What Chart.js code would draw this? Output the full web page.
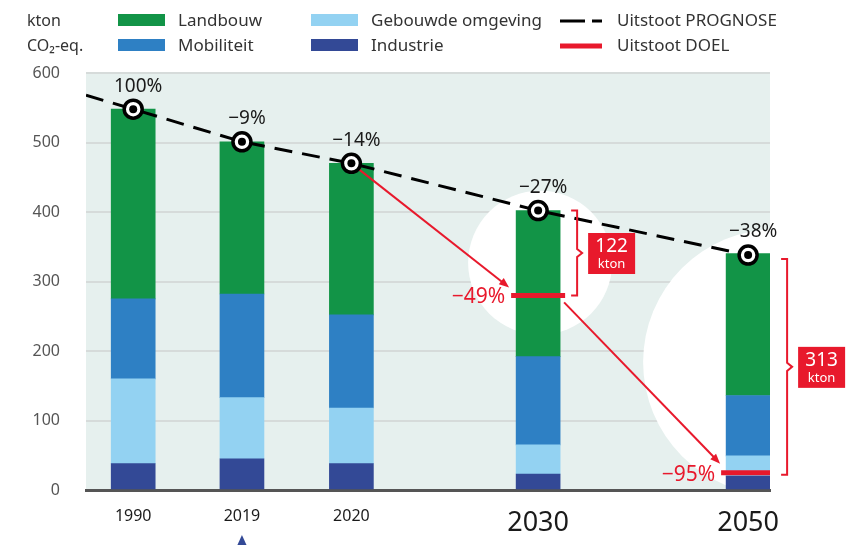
<!DOCTYPE html>
<html>
<head>
<meta charset="utf-8">
<script src="https://cdn.jsdelivr.net/npm/chart.js@4"></script>
<style>
  html, body { margin: 0; padding: 0; background: #fff; }
  #wrap { width: 857px; height: 545px; }
</style>
</head>
<body>
<div id="wrap"><canvas id="chart" width="857" height="545"></canvas></div>
<script>
// Values (kton CO2-eq.)
const years = ['1990', '2019', '2020', '2030', '2050'];
const industrie = [38, 45, 38, 23, 20];
const gebouwd = [122, 88, 80, 42, 29];
const mobiliteit = [115, 149, 134, 127, 87];
const landbouw = [273, 219, 218, 210, 204];

const prognose = [548, 501, 470, 402, 338];
const prognoseStart = 568; // where the dashed line enters the plot on the left
const prognoseLabels = ['100%', '−9%', '−14%', '−27%', '−38%'];

const doel = [280, 25]; // targets for 2030 and 2050
const doelLabels = ['−49%', '−95%'];
const gapLabels = ['122', '313'];

const yTicks = [0, 100, 200, 300, 400, 500, 600];

// Layout (not data): where each year sits along the x axis, 0-100
const slotPos = [6.9, 22.8, 38.8, 66.1, 96.8];
const FONT = "'Noto Sans', sans-serif";
const RED = '#e8192c';
const colors = {
  landbouw: '#129447',
  mobiliteit: '#2e80c4',
  gebouwd: '#93d2f2',
  industrie: '#334996',
};

function barSet(label, values, color) {
  return {
    type: 'bar',
    label,
    data: values.map((v, i) => ({ x: slotPos[i], y: v })),
    backgroundColor: color,
    barThickness: 44,
    order: 10,
  };
}

const decor = {
  id: 'decor',
  beforeDraw(chart) {
    const { ctx, chartArea: a } = chart;
    ctx.save();
    ctx.fillStyle = '#e6f0ee';
    ctx.fillRect(a.left, a.top, a.right - a.left, a.bottom - a.top);
    ctx.restore();
  },
  beforeDatasetsDraw(chart) {
    // white halos behind the 2030 and 2050 bars
    const { ctx, chartArea: a, scales } = chart;
    const xs = scales.x, ys = scales.y;
    ctx.save();
    ctx.beginPath();
    ctx.rect(a.left, a.top, a.right - a.left + 90, a.bottom - a.top - 2);
    ctx.clip();
    ctx.fillStyle = '#ffffff';
    ctx.beginPath();
    ctx.arc(xs.getPixelForValue(slotPos[3]) + 2, ys.getPixelForValue(327), 72, 0, Math.PI * 2);
    ctx.fill();
    ctx.beginPath();
    ctx.arc(xs.getPixelForValue(slotPos[4]) + 28, ys.getPixelForValue(184), 133, 0, Math.PI * 2);
    ctx.fill();
    ctx.restore();
  },
  beforeDatasetDraw(chart, args) {
    if (args.meta.label !== 'Uitstoot PROGNOSE') return;
    const { ctx, scales } = chart;
    const xp = (i) => scales.x.getPixelForValue(slotPos[i]);
    const yp = (v) => scales.y.getPixelForValue(v);
    arrow(ctx, xp(2), yp(prognose[2]), xp(3) - 29, yp(doel[0]) - 8);
    arrow(ctx, xp(3) + 26, yp(doel[0]) + 7, xp(4) - 28, yp(doel[1]) - 9);
  },
  afterDraw(chart) {
    const { ctx, scales } = chart;
    const xp = (i) => scales.x.getPixelForValue(slotPos[i]);
    const yp = (v) => scales.y.getPixelForValue(v);
    ctx.save();

    // percentage labels above the forecast markers
    ctx.fillStyle = '#1a1a1a';
    ctx.font = '19px ' + FONT;
    ctx.textAlign = 'center';
    ctx.textBaseline = 'middle';
    prognose.forEach((v, i) => {
      ctx.fillText(prognoseLabels[i], xp(i) + 5, yp(v) - 23);
    });

    // red target labels
    ctx.fillStyle = RED;
    ctx.font = '21px ' + FONT;
    ctx.textAlign = 'right';
    doel.forEach((v, i) => {
      ctx.fillText(doelLabels[i], xp(3 + i) - 33, yp(v) + 2);
    });

    // braces + gap boxes
    doel.forEach((v, i) => {
      const bx = xp(3 + i) + 39;
      const top = yp(prognose[3 + i]) + (i === 0 ? 0 : 4);
      const bot = yp(v) + (i === 0 ? 0 : 2);
      const mid = (top + bot) / 2;
      ctx.strokeStyle = RED;
      ctx.lineWidth = 2;
      ctx.beginPath();
      ctx.moveTo(bx - 6, top);
      ctx.lineTo(bx, top);
      ctx.lineTo(bx, mid - 4);
      ctx.lineTo(bx + 5, mid);
      ctx.lineTo(bx, mid + 4);
      ctx.lineTo(bx, bot);
      ctx.lineTo(bx - 6, bot);
      ctx.stroke();
      ctx.fillStyle = RED;
      ctx.fillRect(bx + 11, mid - 20, 47, 41);
      ctx.fillStyle = '#fff';
      ctx.textAlign = 'center';
      ctx.font = '19px ' + FONT;
      ctx.fillText(gapLabels[i], bx + 34.5, mid - 6);
      ctx.font = '13px ' + FONT;
      ctx.fillText('kton', bx + 34.5, mid + 11);
    });

    // triangle under 2019
    ctx.fillStyle = colors.industrie;
    const tx = xp(1);
    ctx.beginPath();
    ctx.moveTo(tx, 535);
    ctx.lineTo(tx + 5, 546);
    ctx.lineTo(tx - 5, 546);
    ctx.closePath();
    ctx.fill();

    // y axis unit
    ctx.fillStyle = '#333';
    ctx.font = '16px ' + FONT;
    ctx.textAlign = 'left';
    ctx.fillText('kton', 27, 21);
    ctx.fillText('CO₂-eq.', 27, 46);

    // legend, two rows, three columns
    const rows = [21, 46];
    const legend = [
      { x: 118, row: 0, kind: 'box', color: colors.landbouw, text: 'Landbouw' },
      { x: 118, row: 1, kind: 'box', color: colors.mobiliteit, text: 'Mobiliteit' },
      { x: 311, row: 0, kind: 'box', color: colors.gebouwd, text: 'Gebouwde omgeving' },
      { x: 311, row: 1, kind: 'box', color: colors.industrie, text: 'Industrie' },
      { x: 560, row: 0, kind: 'dash', color: '#000', text: 'Uitstoot PROGNOSE' },
      { x: 560, row: 1, kind: 'line', color: RED, text: 'Uitstoot DOEL' },
    ];
    ctx.font = '17px ' + FONT;
    legend.forEach((it) => {
      const y = rows[it.row];
      if (it.kind === 'box') {
        ctx.fillStyle = it.color;
        ctx.fillRect(it.x, y - 7, 47, 12);
      } else if (it.kind === 'dash') {
        ctx.strokeStyle = it.color;
        ctx.lineWidth = 3;
        ctx.beginPath();
        ctx.moveTo(it.x, y);
        ctx.lineTo(it.x + 25, y);
        ctx.moveTo(it.x + 32, y);
        ctx.lineTo(it.x + 42, y);
        ctx.stroke();
      } else {
        ctx.strokeStyle = it.color;
        ctx.lineWidth = 5;
        ctx.beginPath();
        ctx.moveTo(it.x, y);
        ctx.lineTo(it.x + 42, y);
        ctx.stroke();
      }
      ctx.fillStyle = '#333';
      ctx.fillText(it.text, it.x + (it.kind === 'box' ? 60 : 57), y);
    });
    ctx.restore();
  },
};

function arrow(ctx, x1, y1, x2, y2) {
  const ang = Math.atan2(y2 - y1, x2 - x1);
  ctx.save();
  ctx.strokeStyle = RED;
  ctx.fillStyle = RED;
  ctx.lineWidth = 2;
  ctx.beginPath();
  ctx.moveTo(x1, y1);
  ctx.lineTo(x2 - 6 * Math.cos(ang), y2 - 6 * Math.sin(ang));
  ctx.stroke();
  ctx.beginPath();
  ctx.moveTo(x2, y2);
  ctx.lineTo(x2 - 10 * Math.cos(ang) + 4 * Math.sin(ang), y2 - 10 * Math.sin(ang) - 4 * Math.cos(ang));
  ctx.lineTo(x2 - 10 * Math.cos(ang) - 4 * Math.sin(ang), y2 - 10 * Math.sin(ang) + 4 * Math.cos(ang));
  ctx.closePath();
  ctx.fill();
  ctx.restore();
}

const ctx = document.getElementById('chart').getContext('2d');
new Chart(ctx, {
  data: {
    datasets: [
      barSet('Industrie', industrie, colors.industrie),
      barSet('Gebouwde omgeving', gebouwd, colors.gebouwd),
      barSet('Mobiliteit', mobiliteit, colors.mobiliteit),
      barSet('Landbouw', landbouw, colors.landbouw),
      {
        type: 'line',
        label: 'Uitstoot DOEL',
        stack: 'doel',
        data: doel.map((v, i) => ({ x: slotPos[3 + i], y: v })),
        showLine: false,
        pointStyle: 'line',
        pointRadius: 27,
        pointBorderWidth: 5,
        pointBorderColor: RED,
        order: 5,
      },
      {
        type: 'line',
        label: 'Uitstoot PROGNOSE',
        stack: 'prog',
        data: [{ x: 0, y: prognoseStart }].concat(prognose.map((v, i) => ({ x: slotPos[i], y: v }))),
        borderColor: '#000',
        borderWidth: 3,
        borderDash: [18, 10],
        pointRadius: (c) => (c.dataIndex === 0 ? 0 : 9),
        pointBackgroundColor: '#fff',
        pointBorderColor: '#000',
        pointBorderWidth: 3.5,
        order: 2,
      },
      {
        type: 'line',
        label: 'dots',
        stack: 'dot',
        data: prognose.map((v, i) => ({ x: slotPos[i], y: v })),
        showLine: false,
        pointRadius: 4,
        pointBackgroundColor: '#000',
        pointBorderWidth: 0,
        order: 1,
      },
    ],
  },
  options: {
    responsive: false,
    animation: false,
    events: [],
    layout: { padding: { top: 73, right: 87, left: 0, bottom: 0 } },
    plugins: {
      legend: { display: false },
      tooltip: { enabled: false },
    },
    scales: {
      x: {
        type: 'linear',
        min: 0,
        max: 100,
        offset: false,
        stacked: true,
        afterFit: (s) => { s.height = 55; },
        afterBuildTicks: (s) => { s.ticks = slotPos.map((v) => ({ value: v })); },
        grid: { display: false, drawTicks: false, offset: false },
        border: { display: true, color: '#555', width: 3 },
        ticks: {
          autoSkip: false,
          maxRotation: 0,
          padding: 17,
          color: '#1a1a1a',
          callback: (v, i) => years[i],
          font: (c) => ({ family: FONT, size: c.index >= 3 ? 27 : 16 }),
        },
      },
      y: {
        min: 0,
        max: 600,
        stacked: true,
        afterFit: (s) => { s.width = 86; },
        afterBuildTicks: (s) => { s.ticks = yTicks.map((v) => ({ value: v })); },
        grid: { color: '#d6dbda', lineWidth: 2, drawTicks: false },
        border: { display: false },
        ticks: {
          padding: 26,
          color: '#555',
          font: { family: FONT, size: 16 },
        },
      },
    },
  },
  plugins: [decor],
});
</script>
</body>
</html>
